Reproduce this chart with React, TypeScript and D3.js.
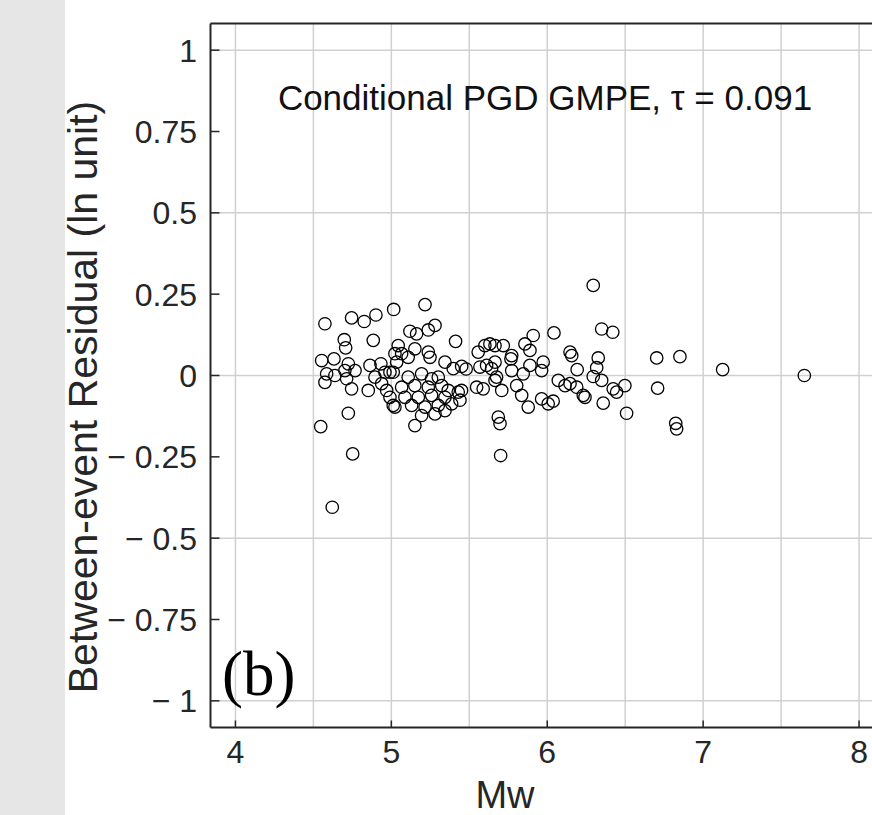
import React from "react";
import * as d3 from "d3";

const mw: number[] = [
  4.574, 4.745, 4.826, 4.901, 5.015, 4.698, 4.707, 4.884, 4.553, 4.632,
  4.585, 4.574, 4.638, 4.702, 4.724, 4.767, 4.713, 4.745, 4.863, 4.933,
  4.895, 4.959, 4.991, 5.012, 4.852, 4.938, 4.970, 5.044, 5.023, 5.034,
  4.991, 5.012, 4.724, 4.547, 4.752, 4.621, 5.023, 5.151, 5.194, 5.216,
  5.119, 5.162, 5.237, 5.280, 5.412, 5.151, 5.237, 5.248, 5.066, 5.108,
  5.344, 5.397, 5.451, 5.108, 5.194, 5.258, 5.301, 5.066, 5.151, 5.237,
  5.323, 5.365, 5.429, 5.087, 5.173, 5.258, 5.344, 5.130, 5.216, 5.301,
  5.387, 5.280, 5.344, 5.557, 5.600, 5.632, 5.568, 5.611, 5.643, 5.547,
  5.589, 5.910, 6.043, 5.857, 5.889, 5.665, 5.718, 5.772, 5.767, 5.665,
  5.772, 5.846, 5.889, 5.974, 5.964, 5.675, 5.665, 5.804, 5.708, 5.836,
  5.878, 5.964, 6.006, 6.038, 6.071, 6.114, 6.146, 6.146, 6.157, 5.686,
  5.697, 5.701, 6.295, 6.349, 6.420, 6.327, 6.317, 6.295, 6.349, 6.192,
  6.189, 6.231, 6.242, 6.359, 6.423, 6.445, 6.498, 6.509, 6.702, 6.851,
  7.125, 7.649, 6.708, 6.824, 6.830, 5.450, 5.440, 5.480,
];
const residual: number[] = [
  0.159, 0.177, 0.166, 0.186, 0.203, 0.110, 0.085, 0.108, 0.046, 0.051,
  0.005, -0.021, 0.0, 0.015, 0.036, 0.015, -0.010, -0.041, 0.031, 0.036,
  -0.005, 0.010, 0.010, 0.010, -0.046, -0.025, -0.046, 0.092, 0.067, 0.041,
  -0.067, -0.092, -0.116, -0.157, -0.241, -0.405, -0.097, -0.154, -0.123, 0.218,
  0.136, 0.128, 0.140, 0.154, 0.105, 0.082, 0.072, 0.056, 0.067, 0.056,
  0.041, 0.021, 0.028, -0.005, 0.005, -0.010, -0.005, -0.036, -0.031, -0.036,
  -0.031, -0.046, -0.051, -0.067, -0.067, -0.061, -0.067, -0.092, -0.097, -0.092,
  -0.087, -0.118, -0.108, 0.072, 0.092, 0.097, 0.026, 0.031, 0.021, -0.036,
  -0.041, 0.123, 0.131, 0.097, 0.077, 0.092, 0.092, 0.061, 0.051, 0.041,
  0.015, 0.005, 0.031, 0.041, 0.015, -0.005, -0.015, -0.031, -0.046, -0.061,
  -0.097, -0.072, -0.087, -0.079, -0.015, -0.031, -0.025, 0.072, 0.061, -0.128,
  -0.148, -0.246, 0.277, 0.143, 0.133, 0.054, 0.024, -0.003, -0.015, 0.018,
  -0.036, -0.061, -0.067, -0.085, -0.041, -0.051, -0.031, -0.116, 0.054, 0.058,
  0.018, 0.0, -0.039, -0.147, -0.164, -0.046, -0.076, 0.020,
];

const xTicks = [4, 5, 6, 7, 8];
const yTicks = [1, 0.75, 0.5, 0.25, 0, -0.25, -0.5, -0.75, -1];
const xGrid = [4, 4.5, 5, 5.5, 6, 6.5, 7, 7.5, 8];
const yGrid = [1, 0.5, 0, -0.5, -1];

const W = 872;
const H = 815;
const L = 210.5;
const T = 23.5;
const B = 727.5;
const R = 884;

const fmtY = (v: number) => {
  if (v === 0) return "0";
  const s = String(Math.abs(v));
  return v < 0 ? "\u2212 " + s : s;
};

export default function App() {
  const x = d3.scaleLinear().domain([3.84, 8.16]).range([L, R]);
  const y = d3.scaleLinear().domain([-1.082, 1.082]).range([B, T]);
  const axisColor = "#262626";
  const font = "'Liberation Sans', Arial, sans-serif";
  return (
    <svg
      width={W}
      height={H}
      style={{ position: "absolute", left: 0, top: 0, background: "#fff" }}
    >
      <rect x={0} y={0} width={65} height={H} fill="#e6e6e6" />
      {xGrid.map((v) => (
        <line key={"gx" + v} x1={x(v)} x2={x(v)} y1={T} y2={B} stroke="#d0d0d0" strokeWidth={1.5} />
      ))}
      {yGrid.map((v) => (
        <line key={"gy" + v} x1={L} x2={W} y1={y(v)} y2={y(v)} stroke="#d0d0d0" strokeWidth={1.5} />
      ))}
      {mw.map((m, i) => (
        <circle key={i} cx={x(m)} cy={y(residual[i])} r={6.2} fill="none" stroke="#000" strokeWidth={1.3} />
      ))}
      <line x1={L} x2={W} y1={T} y2={T} stroke={axisColor} strokeWidth={2} />
      <line x1={L} x2={W} y1={B} y2={B} stroke={axisColor} strokeWidth={2} />
      <line x1={L} x2={L} y1={T} y2={B} stroke={axisColor} strokeWidth={2} />
      {yTicks.map((v) => (
        <g key={"ty" + v}>
          <line x1={L} x2={L + 9} y1={y(v)} y2={y(v)} stroke={axisColor} strokeWidth={1.5} />
          <text
            x={197}
            y={y(v) + 11.5}
            textAnchor="end"
            fontFamily={font}
            fontSize={32}
            fill={axisColor}
          >
            {fmtY(v)}
          </text>
        </g>
      ))}
      {xTicks.map((v) => (
        <g key={"tx" + v}>
          <line x1={x(v)} x2={x(v)} y1={B} y2={B - 7} stroke={axisColor} strokeWidth={1.5} />
          <text x={x(v)} y={763} textAnchor="middle" fontFamily={font} fontSize={32} fill={axisColor}>
            {v}
          </text>
        </g>
      ))}
      <text x={505} y={808} textAnchor="middle" fontFamily={font} fontSize={38} fill={axisColor}>
        Mw
      </text>
      <text
        transform={`translate(97, ${397}) rotate(-90)`}
        textAnchor="middle"
        fontFamily={font}
        fontSize={41}
        fill={axisColor}
      >
        Between-event Residual (ln unit)
      </text>
      <text x={545} y={110} textAnchor="middle" fontFamily={font} fontSize={35} fill="#111">
        Conditional PGD GMPE, τ = 0.091
      </text>
      <text x={222} y={695} fontFamily="'Liberation Serif', 'Times New Roman', serif" fontSize={63} fill="#000">
        (b)
      </text>
    </svg>
  );
}
